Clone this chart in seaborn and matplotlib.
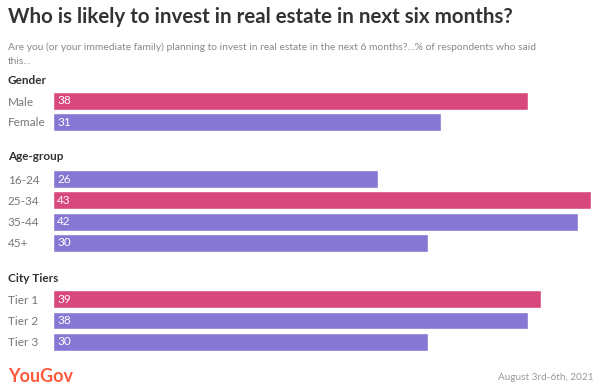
import matplotlib
matplotlib.use("Agg")
import matplotlib.pyplot as plt
import seaborn as sns
import pandas as pd

# data
groups = ["Gender", "Age-group", "City Tiers"]
gender_labels = ["Male", "Female"]
gender_values = [38, 31]
age_labels = ["16-24", "25-34", "35-44", "45+"]
age_values = [26, 43, 42, 30]
tier_labels = ["Tier 1", "Tier 2", "Tier 3"]
tier_values = [39, 38, 30]
highlight = ["Male", "25-34", "Tier 1"]

PINK = "#d9487d"
PURPLE = "#8677d4"

sns.set_theme(style="white")
plt.rcParams["font.family"] = ["Lato", "DejaVu Sans"]

fig = plt.figure(figsize=(6.02, 3.91), dpi=100)
W, H = 602, 391

def px_axes(top, bottom):
    return fig.add_axes([53 / W, 1 - bottom / H, (591 - 53) / W, (bottom - top) / H])

panels = [
    (gender_labels, gender_values, 90.5, 132.5, 80),
    (age_labels, age_values, 168.5, 253.5, 157),
    (tier_labels, tier_values, 288.5, 352.5, 279),
]

for name, (labels, values, top, bottom, head_y) in zip(groups, panels):
    ax = px_axes(top, bottom)
    df = pd.DataFrame({"label": labels, "value": values})
    colors = {l: (PINK if l in highlight else PURPLE) for l in labels}
    sns.barplot(data=df, x="value", y="label", hue="label", palette=colors,
                order=labels, width=0.84, legend=False, ax=ax, saturation=1)
    ax.set_xlim(0, 43)
    ax.set_xlabel("")
    ax.set_ylabel("")
    ax.set_xticks([])
    sns.despine(ax=ax, left=True, bottom=True)
    ax.tick_params(axis="y", left=False, pad=26.6, labelsize=8.5, labelcolor="#777777")
    for t in ax.get_yticklabels():
        t.set_ha("left")
    for p in ax.patches:
        ax.annotate(f"{p.get_width():.0f}", (p.get_x(), p.get_y() + p.get_height() / 2),
                    xytext=(3, 0), textcoords="offset points", ha="left", va="center",
                    color="white", fontsize=8.5)
    fig.text(8 / W, 1 - head_y / H, name, ha="left", va="center",
             fontsize=8.5, fontweight="bold", color="#333333")

fig.text(8 / W, 1 - 17 / H, "Who is likely to invest in real estate in next six months?",
         ha="left", va="center", fontsize=14.8, fontweight="bold", color="#333333")
fig.text(8 / W, 1 - 47 / H,
         "Are you (or your immediate family) planning to invest in real estate in the next 6 months?...% of respondents who said",
         ha="left", va="center", fontsize=7.4, color="#888888")
fig.text(8 / W, 1 - 62 / H, "this...", ha="left", va="center", fontsize=7.4, color="#888888")
fig.text(8 / W, 1 - 376 / H, "YouGov", ha="left", va="center", fontsize=13,
         fontweight="bold", color="#ff5a3c")
fig.text(594 / W, 1 - 377 / H, "August 3rd-6th, 2021", ha="right", va="center",
         fontsize=7.2, color="#999999")

fig.savefig("out.png", dpi=100)
